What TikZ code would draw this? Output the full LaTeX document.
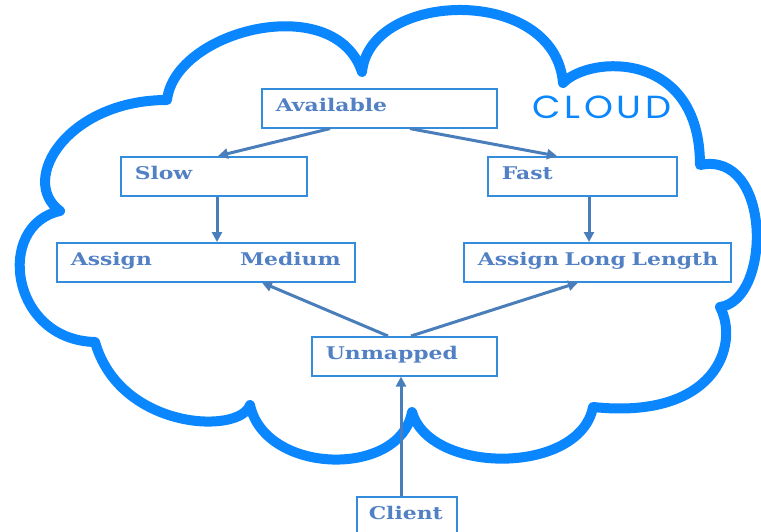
\documentclass[tikz,border=0pt]{standalone}
\usepackage{fontspec}
\usetikzlibrary{arrows.meta}
\newfontfamily\boxfont{DejaVu Serif Bold}[FakeStretch=1.25]
\newfontfamily\cloudfont{Poppins}[FakeStretch=1.15,LetterSpace=12]
\definecolor{cloudc}{RGB}{10,134,255}
\definecolor{boxc}{RGB}{52,140,220}
\definecolor{txtc}{RGB}{82,128,196}
\definecolor{arrc}{RGB}{74,126,187}
\tikzset{
  box/.style={draw=boxc, line width=1.6pt, fill=white, inner xsep=14pt, inner ysep=0pt,
    text height=23pt, text depth=16pt, align=left, anchor=north west, text=txtc,
    font=\boxfont\fontsize{17.5}{19}\selectfont},
  conn/.style={draw=arrc, line width=3pt, -{Triangle[length=10pt,width=10pt]}},
  cloudline/.style={draw=cloudc, line width=10pt, line join=round}
}
\begin{document}
\begin{tikzpicture}[x=1pt,y=-1pt]
\useasboundingbox (0,0) rectangle (761,532);
\clip (0,0) rectangle (761,532);
% cloud outline
\draw[cloudline]
  (60,211) .. controls (18,180) and (68,100) .. (167,100)
  .. controls (175,30) and (335,-10) .. (362,72)
  .. controls (370,-10) and (555,-15) .. (563,83)
  .. controls (590,55) and (700,50) .. (700,165)
  .. controls (772,150) and (772,300) .. (720,307)
  .. controls (740,345) and (715,420) .. (593,407)
  .. controls (580,475) and (430,475) .. (412,412)
  .. controls (400,478) and (265,475) .. (250,405)
  .. controls (240,435) and (120,430) .. (95,342)
  .. controls (10,340) and (-5,225) .. cycle;
\node[font=\cloudfont\fontsize{32}{34}\selectfont, text=cloudc, anchor=west, inner sep=0pt] (cloudlbl) at (532,107) {CLOUD};
% boxes
\node[box, text width=207pt] (avail) at (261,88) {Available};
\node[box, text width=158pt] (slow) at (120,156) {Slow};
\node[box, text width=161pt] (fast) at (487,156) {Fast};
\node[box, text width=270pt] (amed) at (56,242) {Assign\hfill Medium};
\node[box, text width=239pt] (along) at (463,242) {\mbox{Assign Long Length}};
\node[box, text width=157pt] (unm) at (311,336) {Unmapped};
\node[box, text width=76pt, inner xsep=12pt, text depth=24pt] (client) at (356,496) {Client};
% connectors
\draw[conn] ([xshift=69pt]avail.south west) -- ([xshift=98pt]slow.north west);
\draw[conn] ([xshift=149pt]avail.south west) -- ([xshift=70pt]fast.north west);
\draw[conn] ([xshift=97pt]slow.south west) -- ([xshift=161pt]amed.north west);
\draw[conn] ([xshift=102pt]fast.south west) -- ([xshift=126pt]along.north west);
\draw[conn] ([xshift=77pt]unm.north west) -- ([xshift=206pt]amed.south west);
\draw[conn] ([xshift=100pt]unm.north west) -- ([xshift=115pt]along.south west);
\draw[conn] ([xshift=45pt]client.north west) -- ([xshift=90pt]unm.south west);
\end{tikzpicture}
\end{document}
